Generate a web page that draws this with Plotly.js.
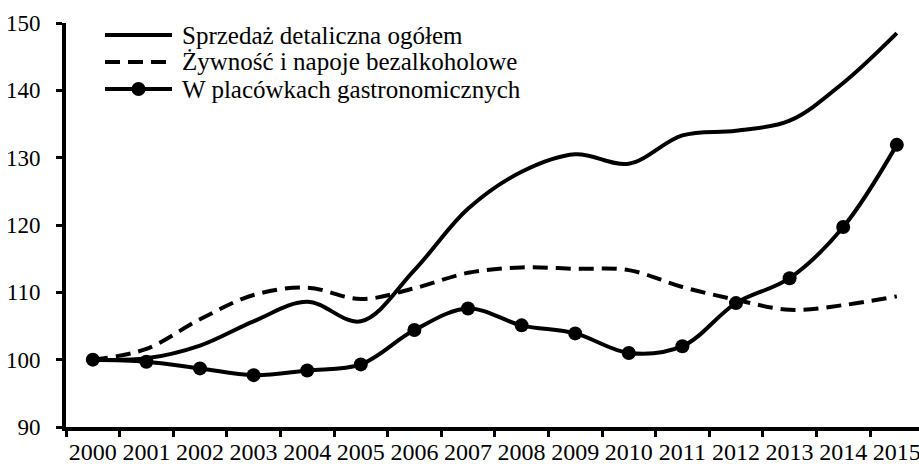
<!DOCTYPE html>
<html>
<head>
<meta charset="utf-8">
<script src="https://cdn.plot.ly/plotly-3.0.1.min.js"></script>
<style>html,body{margin:0;padding:0;background:#fff;}#chart{width:919px;height:466px;}</style>
</head>
<body>
<div id="chart"></div>
<script>
const years = ['2000','2001','2002','2003','2004','2005','2006','2007','2008','2009','2010','2011','2012','2013','2014','2015'];
const totalRetail = [100, 100.2, 102.1, 105.7, 108.6, 105.7, 113.3, 122.4, 127.9, 130.5, 129.1, 133.3, 134.0, 135.5, 141.1, 148.5];
const foodDrinks = [100, 101.6, 106.0, 109.6, 110.7, 109.0, 110.6, 112.9, 113.7, 113.5, 113.3, 110.8, 108.9, 107.4, 108.1, 109.4];
const gastronomy = [100, 99.7, 98.7, 97.7, 98.4, 99.3, 104.4, 107.6, 105.1, 103.9, 101.0, 102.0, 108.4, 112.1, 119.7, 131.9];
const seriesNames = ['Sprzedaż detaliczna ogółem', 'Żywność i napoje bezalkoholowe', 'W placówkach gastronomicznych'];

const W = 919, H = 466;
const M = {l: 66, r: 0, t: 23, b: 39};
const font = 'Liberation Serif, Times New Roman, serif';

// legend drawn in pixel space, converted to paper coordinates
const px = x => (x - M.l) / (W - M.l - M.r);
const py = y => 1 - (y - M.t) / (H - M.t - M.b);
const legRows = [35, 62, 89];
const legX0 = 105, legX1 = 172, legText = 180;
const legDash = ['solid', '15px,8px', 'solid'];

const shapes = [];
const annotations = [];
seriesNames.forEach((name, i) => {
  shapes.push({type: 'line', xref: 'paper', yref: 'paper', x0: px(legX0), x1: px(legX1), y0: py(legRows[i]), y1: py(legRows[i]),
               line: {color: '#000', width: 4, dash: legDash[i]}});
  annotations.push({xref: 'paper', yref: 'paper', x: px(legText), y: py(legRows[i]), xanchor: 'left', yanchor: 'middle',
                    text: name, showarrow: false, font: {family: font, size: 25, color: '#000'}});
});
const mc = (legX0 + legX1) / 2, r = 7;
shapes.push({type: 'circle', xref: 'paper', yref: 'paper', x0: px(mc - r), x1: px(mc + r), y0: py(legRows[2] + r), y1: py(legRows[2] - r),
             fillcolor: '#000', line: {color: '#000', width: 0}});

const traces = [
  {x: years, y: totalRetail, name: seriesNames[0], mode: 'lines', type: 'scatter',
   line: {color: '#000', width: 4, shape: 'spline', smoothing: 1}},
  {x: years, y: foodDrinks, name: seriesNames[1], mode: 'lines', type: 'scatter',
   line: {color: '#000', width: 4, shape: 'spline', smoothing: 1, dash: '15px,8px'}},
  {x: years, y: gastronomy, name: seriesNames[2], mode: 'lines+markers', type: 'scatter',
   line: {color: '#000', width: 4, shape: 'spline', smoothing: 1},
   marker: {color: '#000', size: 14, symbol: 'circle'}}
];
const layout = {
  width: W, height: H,
  margin: {l: M.l, r: M.r, t: M.t, b: M.b, pad: 0},
  paper_bgcolor: '#fff', plot_bgcolor: '#fff',
  font: {family: font, color: '#000', size: 24},
  showlegend: false,
  shapes: shapes,
  annotations: annotations,
  xaxis: {type: 'category', range: [-0.5, 15.414], showgrid: false, zeroline: false,
          showline: true, linecolor: '#000', linewidth: 4, tickangle: 0,
          ticks: 'outside', tickson: 'boundaries', ticklen: 6, tickwidth: 3, tickcolor: '#000',
          tickfont: {family: font, size: 24, color: '#000'}, fixedrange: true},
  yaxis: {range: [90, 150], tickvals: [90,100,110,120,130,140,150], showgrid: false, zeroline: false,
          showline: true, linecolor: '#000', linewidth: 4,
          ticks: 'outside', ticklen: 6, tickwidth: 3, tickcolor: '#000',
          tickfont: {family: font, size: 23, color: '#000'}, ticklabelstandoff: 11, fixedrange: true}
};
Plotly.newPlot('chart', traces, layout, {displayModeBar: false, staticPlot: true});
</script>
</body>
</html>
